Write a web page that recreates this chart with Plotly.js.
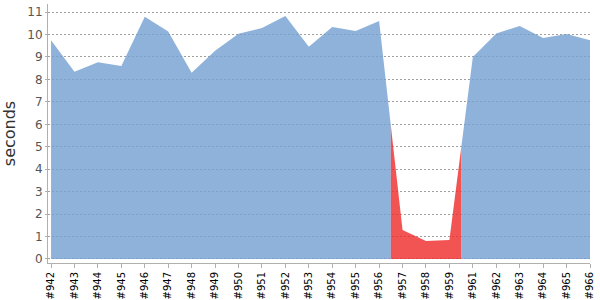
<!DOCTYPE html>
<html>
<head>
<meta charset="utf-8">
<script src="https://cdn.plot.ly/plotly-3.0.1.min.js"></script>
<style>html,body{margin:0;padding:0;background:#fff;}#chart{width:600px;height:300px;}</style>
</head>
<body>
<div id="chart"></div>
<script>
// Build numbers (x categories)
const builds = ['#942','#943','#944','#945','#946','#947','#948','#949','#950','#951','#952','#953','#954','#955','#956','#957','#958','#959','#961','#962','#963','#964','#965','#966'];
// Build duration in seconds
const seconds = [9.75,8.34,8.77,8.60,10.79,10.13,8.30,9.28,10.04,10.29,10.82,9.46,10.33,10.16,10.60,1.29,0.80,0.85,9.00,10.05,10.38,9.84,10.02,9.74];
// Build result
const status = ['success','success','success','success','success','success','success','success','success','success','success','success','success','success','success','failure','failure','failure','success','success','success','success','success','success'];
// Y tick values
const yTicks = [0,1,2,3,4,5,6,7,8,9,10,11];

const colors = {success:'rgba(114,159,207,0.8)', failure:'rgba(239,41,41,0.8)'};

// Build one stacked-area style polygon per run of equal status
const idx = builds.map((_, i) => i);
const traces = [];
let a = 0;
while (a < builds.length) {
  let b = a;
  while (b + 1 < builds.length && status[b + 1] === status[a]) b++;
  const xs = [], ys = [];
  if (a > 0) {
    xs.push((idx[a - 1] + idx[a]) / 2, (idx[a - 1] + idx[a]) / 2);
    ys.push(0, (seconds[a - 1] + seconds[a]) / 2);
  } else {
    xs.push(idx[a]); ys.push(0);
  }
  for (let i = a; i <= b; i++) { xs.push(idx[i]); ys.push(seconds[i]); }
  if (b < builds.length - 1) {
    xs.push((idx[b] + idx[b + 1]) / 2, (idx[b] + idx[b + 1]) / 2);
    ys.push((seconds[b] + seconds[b + 1]) / 2, 0);
  } else {
    xs.push(idx[b]); ys.push(0);
  }
  traces.push({
    x: xs, y: ys, type: 'scatter', mode: 'lines', fill: 'toself',
    fillcolor: colors[status[a]], line: {width: 0, color: colors[status[a]]},
    hoverinfo: 'skip', showlegend: false
  });
  a = b + 1;
}

const layout = {
  width: 600, height: 300,
  margin: {l: 48, r: 10, t: 4, b: 37},
  paper_bgcolor: '#fff', plot_bgcolor: '#fff',
  font: {family: 'DejaVu Sans, sans-serif'},
  xaxis: {
    range: [-0.13, builds.length - 1],
    tickvals: idx, ticktext: builds, tickangle: -90,
    tickfont: {size: 10, color: '#000'},
    showgrid: false, zeroline: false,
    showline: true, linecolor: '#b0b0b0', linewidth: 1,
    ticks: 'outside', ticklen: 4, tickcolor: '#b0b0b0'
  },
  yaxis: {
    range: [-0.18, 11.36],
    tickvals: yTicks,
    tickfont: {size: 12, color: '#555'},
    showgrid: true, gridcolor: '#a0a0a0', gridwidth: 1, griddash: '2px,2px',
    zeroline: false,
    showline: true, linecolor: '#b0b0b0', linewidth: 1,
    ticks: 'outside', ticklen: 2, tickcolor: '#b0b0b0',
    title: {text: 'seconds', font: {size: 16, color: '#333'}, standoff: 8}
  }
};

Plotly.newPlot('chart', traces, layout, {staticPlot: true, displayModeBar: false});
</script>
</body>
</html>
